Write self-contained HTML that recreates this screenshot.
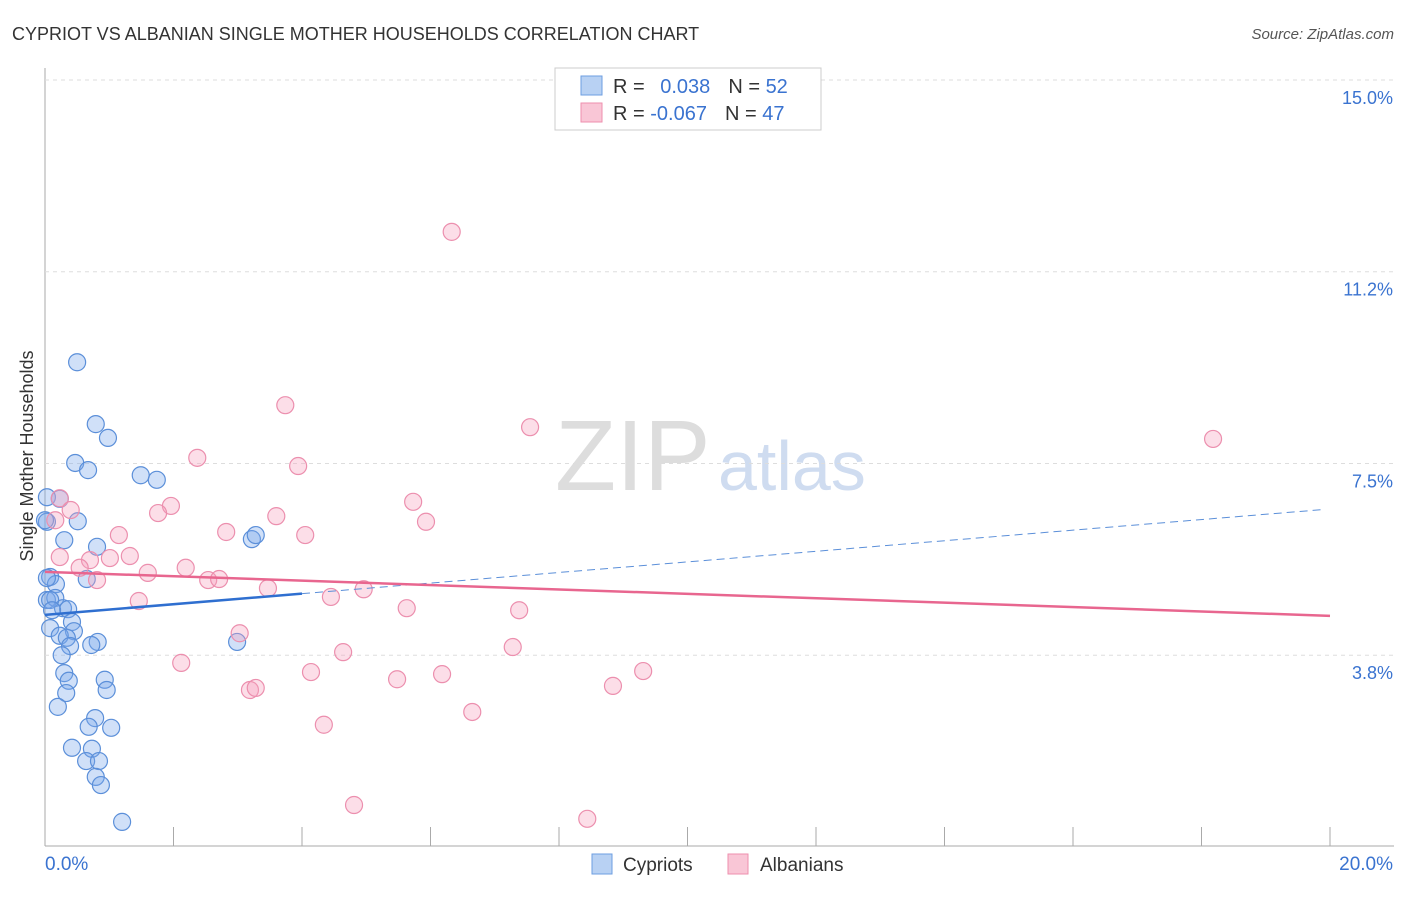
<!DOCTYPE html>
<html><head><meta charset="utf-8"><style>
body{margin:0;background:#fff;font-family:"Liberation Sans",sans-serif;}
svg text{font-family:"Liberation Sans",sans-serif;}
</style></head><body>
<svg id="c" width="1406" height="892">
<text x="12" y="40" font-size="18" fill="#333">CYPRIOT VS ALBANIAN SINGLE MOTHER HOUSEHOLDS CORRELATION CHART</text>
<text x="1394" y="39" font-size="15" fill="#555" text-anchor="end" font-style="italic">Source: ZipAtlas.com</text>
<text x="33" y="456" font-size="18" fill="#333" text-anchor="middle" transform="rotate(-90 33 456)">Single Mother Households</text>
<text x="555" y="490" font-size="100" fill="#ddd" font-family="Liberation Serif">ZIP</text>
<text x="718" y="490" font-size="70" fill="#cfdcf0">atlas</text>
<g id="grid"></g><g id="pts"></g><g id="lines"></g>
<g>
<rect x="555" y="68" width="266" height="62" fill="#fff" stroke="#ccc"/>
<rect x="581" y="76" width="21" height="19" fill="#b8d1f3" stroke="#6d9ee0"/>
<rect x="581" y="103" width="21" height="19" fill="#f9c6d6" stroke="#ee8fae"/>
<text x="613" y="93" font-size="20" fill="#333">R = <tspan fill="#3a73d0" dx="10">0.038</tspan><tspan dx="18" fill="#333">N = </tspan><tspan fill="#3a73d0">52</tspan></text>
<text x="613" y="120" font-size="20" fill="#333">R = <tspan fill="#3a73d0">-0.067</tspan><tspan dx="18" fill="#333">N = </tspan><tspan fill="#3a73d0">47</tspan></text>
</g>
<g>
<rect x="592" y="854" width="20" height="20" fill="#b8d1f3" stroke="#6d9ee0"/>
<text x="623" y="871" font-size="19" fill="#333">Cypriots</text>
<rect x="728" y="854" width="20" height="20" fill="#f9c6d6" stroke="#ee8fae"/>
<text x="760" y="871" font-size="19" fill="#333">Albanians</text>
</g>
<text x="45" y="870" font-size="19" fill="#3a73d0">0.0%</text>
<text x="1393" y="870" font-size="19" fill="#3a73d0" text-anchor="end">20.0%</text>
</svg>
<script>
const yTicks=[15,11.25,7.5,3.75];
const yTickLabels=["15.0%","11.2%","7.5%","3.8%"];
const xTicks=[0,2,4,6,8,10,12,14,16,18,20];
const cypX=[0.50,0.79,0.98,0.47,0.67,1.49,1.74,0.03,0.23,0.03,0.51,0.30,3.22,3.28,0.81,0.08,0.17,0.65,0.03,0.16,0.28,0.36,0.08,0.42,0.45,0.23,0.34,0.39,0.82,0.72,0.26,0.30,0.37,0.33,0.93,0.96,0.20,0.78,0.68,1.03,0.42,0.73,0.64,0.84,0.79,0.87,1.20,2.99,0,0.03,0.08,0.11];
const cypY=[9.48,8.27,8.00,7.51,7.37,7.27,7.18,6.84,6.81,6.36,6.37,6.00,6.02,6.10,5.87,5.28,5.14,5.24,4.83,4.87,4.67,4.65,4.28,4.40,4.22,4.13,4.09,3.93,4.01,3.95,3.75,3.40,3.25,3.01,3.27,3.07,2.74,2.52,2.35,2.33,1.94,1.92,1.68,1.68,1.37,1.21,0.49,4.01,6.39,5.26,4.83,4.63];
const albX=[6.33,3.74,7.55,18.18,2.37,3.94,0.23,0.40,5.73,1.96,1.76,0.16,3.60,5.93,2.82,4.05,1.15,0.23,1.32,1.01,0.70,0.54,1.60,2.19,0.81,2.54,2.71,3.47,4.96,1.46,4.45,5.63,7.38,3.03,2.12,4.64,7.28,4.14,6.18,5.48,9.31,8.84,3.19,3.28,6.65,4.34,4.81,8.44];
const albY=[12.03,8.64,8.21,7.98,7.61,7.45,6.82,6.59,6.75,6.67,6.53,6.39,6.47,6.36,6.16,6.10,6.10,5.67,5.69,5.65,5.61,5.46,5.36,5.46,5.22,5.22,5.24,5.06,5.04,4.81,4.89,4.67,4.63,4.18,3.60,3.81,3.91,3.42,3.38,3.28,3.44,3.15,3.07,3.11,2.64,2.39,0.82,0.55];
const cypTrend=[4.54,6.61], albTrend=[5.38,4.52];
const sx=v=>45+v/20*1285, sy=v=>80+(15-v)*51.13;
const NS="http://www.w3.org/2000/svg";
function mk(t,a,p){const e=document.createElementNS(NS,t);for(const k in a)e.setAttribute(k,a[k]);p.appendChild(e);return e;}
const g=document.getElementById('grid');
mk('line',{x1:45,y1:68,x2:45,y2:846,stroke:'#aaa'},g);
mk('line',{x1:45,y1:846,x2:1394,y2:846,stroke:'#aaa'},g);
yTicks.forEach((v,i)=>{
 const l=mk('line',{x1:45,y1:sy(v),x2:1394,y2:sy(v),stroke:'#ddd','stroke-dasharray':'4,4'},g);
 
 
 const t=mk('text',{x:1393,y:sy(v)+24,'font-size':18,fill:'#3a73d0','text-anchor':'end'},g);
 t.textContent=yTickLabels[i];
 
 
});
xTicks.forEach(v=>{
 const l=mk('line',{x1:sx(v),y1:827,x2:sx(v),y2:846,stroke:'#aaa'},g);
 
 
});
const p=document.getElementById('pts');
cypX.forEach((x,i)=>{
 const c=mk('circle',{cx:sx(x),cy:sy(cypY[i]),r:8.5,fill:'rgba(120,165,235,0.35)',stroke:'#5b8fd9','stroke-width':1.2},p);
 
 
});
albX.forEach((x,i)=>{
 const c=mk('circle',{cx:sx(x),cy:sy(albY[i]),r:8.5,fill:'rgba(245,160,190,0.35)',stroke:'#ec8fae','stroke-width':1.2},p);
 
 
});
const L=document.getElementById('lines');
const cy=x=>cypTrend[0]+(cypTrend[1]-cypTrend[0])*x/20;
const a=mk('line',{x1:sx(0),y1:sy(cy(0)),x2:sx(4),y2:sy(cy(4)),stroke:'#2f6fd0','stroke-width':2.5},L);


const b=mk('line',{x1:sx(4),y1:sy(cy(4)),x2:sx(19.9),y2:sy(cy(19.9)),stroke:'#5b8fd9','stroke-width':1,'stroke-dasharray':'8,5'},L);


const d=mk('line',{x1:sx(0),y1:sy(albTrend[0]),x2:sx(20),y2:sy(albTrend[1]),stroke:'#e8668f','stroke-width':2.5},L);


</script>
</body></html>
